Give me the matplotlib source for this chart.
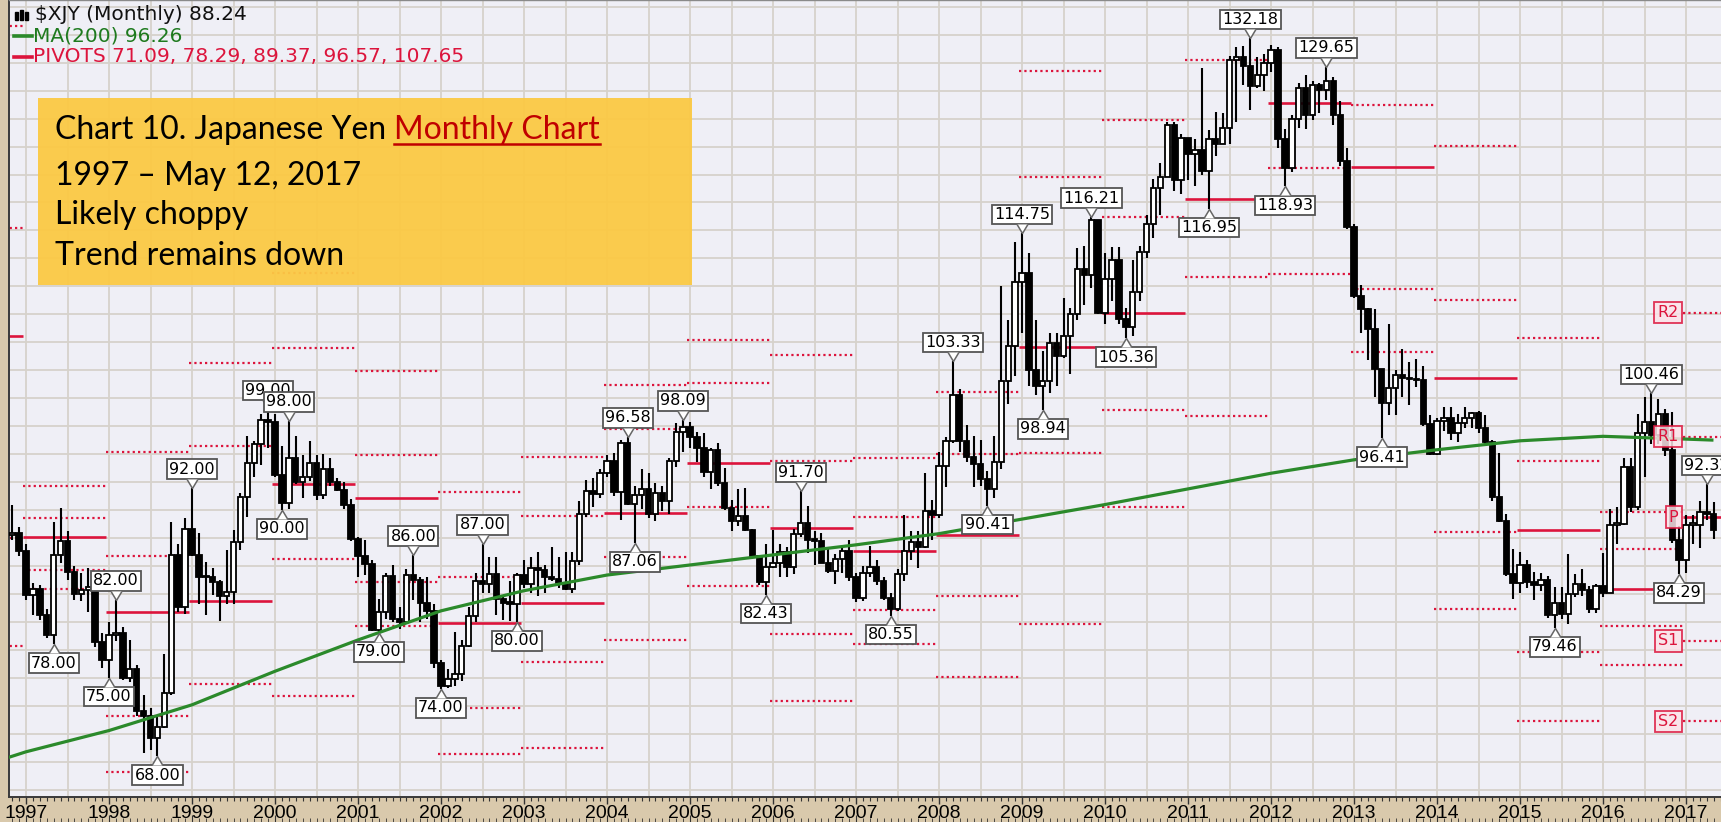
#!/usr/bin/env python3
"""Japanese Yen ($XJY) monthly candles 1996-2017 with MA(200) and yearly pivots."""

import numpy as np
import pandas as pd
import matplotlib

matplotlib.use("Agg")
import matplotlib.pyplot as plt
from matplotlib.lines import Line2D
from matplotlib.path import Path
from matplotlib.patches import Rectangle
from matplotlib.ticker import FixedLocator, NullFormatter

W, H, DPI = 1721, 822, 100

TAN = "#D9C9AC"
PLOT_BG = "#EFEFF6"
GRID = "#D6D2CB"
RED = "#DC143C"
GREEN = "#2B8A2B"

# ---- data ----------------------------------------------------------------
FIRST_MONTH = "1996-11"
FIRST_OPEN = 87.80

closes = [
    87.95, 86.36,
    82.44, 82.99, 80.65, 78.80, 85.98, 87.26, 84.46, 82.51, 82.85, 83.13, 78.25, 76.63,
    78.80, 79.05, 75.02, 75.76, 72.05, 71.63, 69.59, 70.62, 73.69, 85.98, 81.30, 88.34,
    85.98, 84.03, 84.03, 83.61, 82.30, 82.64, 87.18, 91.16, 94.25, 95.88, 98.04, 97.85,
    93.11, 90.66, 94.70, 92.51, 92.94, 94.25, 91.32, 93.72, 92.51, 91.83, 90.50, 87.41,
    85.91, 85.18, 79.30, 80.91, 84.10, 80.26, 80.00, 84.18, 83.75, 81.70, 80.97, 76.34,
    74.24, 74.91, 75.36, 77.82, 80.58, 83.68, 83.40, 84.32, 82.10, 81.70, 81.63, 84.18,
    83.40, 84.82, 84.67, 84.03, 83.82, 83.47, 82.99, 85.47, 89.69, 91.74, 91.41, 93.28,
    94.43, 91.66, 95.97, 90.58, 91.32, 91.91, 89.69, 91.49, 90.83, 94.43, 96.99, 97.47,
    96.53, 95.60, 93.37, 95.42, 92.42, 90.17, 89.05, 89.45, 88.26, 85.91, 83.61, 84.89,
    85.32, 86.28, 84.89, 87.87, 88.89, 87.34, 87.26, 85.32, 84.60, 85.62, 86.36, 84.03,
    82.17, 84.39, 84.89, 83.68, 82.17, 81.17, 84.32, 86.36, 87.11, 86.73, 89.93, 89.53,
    93.98, 96.15, 100.30, 96.15, 94.79, 94.16, 92.76, 91.91, 94.34, 101.52, 104.71, 110.38,
    111.2, 102.5, 101.1, 101.5, 104.9, 103.8, 105.6, 107.5, 111.6, 111.0, 115.9, 107.6,
    110.7, 112.4, 107.1, 106.4, 109.5, 113.1, 115.6, 118.8, 119.8, 124.4, 119.5, 123.3,
    121.8, 122.2, 120.3, 123.2, 122.7, 124.2, 130.2, 130.5, 129.7, 127.9, 128.9, 130.0,
    131.1, 123.2, 120.6, 125.0, 127.7, 125.3, 128.0, 127.6, 128.4, 125.3, 121.2, 115.3,
    109.1, 108.0, 106.2, 102.6, 99.6, 100.9, 102.1, 101.8, 101.7, 101.6, 97.7, 95.0,
    98.0, 98.2, 96.9, 97.8, 98.2, 98.7, 97.3, 96.1, 91.2, 89.0, 84.3, 83.5,
    85.1, 83.6, 83.3, 83.8, 80.6, 81.7, 80.7, 82.5, 83.4, 82.9, 81.2, 83.2,
    82.6, 88.7, 88.8, 93.9, 90.3, 96.9, 97.9, 96.7, 98.6, 95.4, 87.3, 85.5,
    88.7, 88.7, 89.8, 89.7, 88.24,
]

highs = [
    90.5, 88.5,
    87.0, 83.5, 83.3, 81.2, 88.9, 90.2, 88.1, 85.0, 84.4, 84.8, 83.5, 79.0,
    80.0, 82.0, 79.6, 78.4, 76.2, 73.5, 72.3, 71.5, 77.1, 88.9, 87.0, 89.3,
    92.0, 88.0, 85.4, 84.8, 83.8, 86.4, 88.2, 91.5, 96.6, 96.2, 98.6, 99.0,
    98.6, 95.7, 98.0, 96.6, 94.9, 96.2, 94.9, 95.0, 94.7, 92.9, 92.5, 91.0,
    87.6, 87.3, 85.5, 82.1, 84.4, 85.1, 81.3, 84.7, 86.0, 84.0, 84.0, 81.6,
    76.6, 75.8, 79.1, 78.4, 81.3, 84.4, 87.0, 85.8, 85.8, 82.3, 83.7, 84.4,
    85.5, 85.8, 86.3, 85.1, 86.7, 85.8, 86.3, 86.3, 90.8, 92.7, 92.9, 93.7,
    94.9, 95.1, 96.3, 96.58, 92.2, 93.7, 93.3, 92.4, 92.2, 94.7, 97.8, 98.09,
    97.9, 97.0, 96.9, 95.6, 96.0, 93.8, 90.9, 91.9, 92.0, 88.3, 86.0, 87.0,
    88.2, 87.0, 86.7, 88.3, 91.70, 90.4, 88.1, 88.0, 86.6, 86.1, 86.8, 87.3,
    84.4, 85.0, 86.8, 85.5, 84.0, 82.6, 84.7, 89.6, 88.1, 88.1, 93.3, 90.9,
    95.2, 96.5, 103.33, 100.8, 97.6, 96.6, 96.3, 93.5, 96.6, 110.0, 107.0, 114.0,
    114.75, 113.0, 107.0, 104.2, 105.8, 105.8, 109.0, 108.1, 113.4, 113.6, 116.21, 115.9,
    113.0, 113.5, 113.5, 108.1, 112.4, 113.6, 116.4, 119.6, 121.0, 124.7, 124.7, 123.6,
    123.3, 123.2, 129.5, 124.0, 125.6, 125.5, 130.6, 131.4, 131.5, 132.18, 130.5, 130.8,
    131.6, 131.4, 124.1, 125.3, 128.2, 128.9, 128.4, 128.2, 129.65, 128.7, 126.6, 122.4,
    115.6, 110.1, 108.1, 108.0, 102.6, 106.6, 102.5, 104.4, 103.2, 103.5, 102.9, 98.5,
    98.2, 99.2, 99.2, 98.6, 99.2, 98.8, 98.9, 98.5, 96.3, 95.1, 89.7, 86.5,
    86.3, 85.5, 84.5, 84.4, 84.1, 83.1, 83.1, 86.1, 84.3, 84.7, 83.2, 83.4,
    86.2, 90.1, 90.3, 94.7, 94.7, 98.6, 100.1, 100.46, 99.9, 99.0, 98.8, 88.6,
    89.6, 89.6, 90.8, 92.32, 90.7,
]

lows = [
    87.3, 85.9,
    82.0, 80.6, 80.2, 78.6, 78.0, 85.3, 83.8, 82.0, 81.9, 80.9, 77.8, 75.9,
    75.0, 78.3, 74.8, 74.6, 71.6, 68.3, 68.6, 68.0, 70.5, 73.5, 80.9, 80.7,
    85.9, 81.6, 80.6, 82.4, 80.1, 81.6, 81.6, 86.4, 89.4, 93.0, 94.0, 95.6,
    93.0, 90.0, 90.1, 92.3, 91.1, 92.6, 90.9, 91.0, 92.2, 91.7, 90.1, 87.2,
    84.0, 84.2, 79.2, 79.0, 80.3, 80.0, 79.4, 80.0, 82.0, 80.0, 80.3, 75.9,
    74.0, 74.1, 74.3, 74.7, 77.8, 80.0, 82.6, 82.6, 80.6, 80.2, 80.1, 80.0,
    83.0, 82.6, 82.3, 82.6, 83.7, 83.0, 82.9, 82.6, 85.1, 89.4, 90.3, 91.1,
    93.0, 91.3, 89.1, 90.5, 87.06, 90.1, 89.3, 89.0, 89.9, 89.7, 93.9, 95.2,
    95.6, 94.3, 93.0, 91.9, 92.2, 90.0, 88.1, 88.6, 88.1, 85.8, 83.3, 82.43,
    84.8, 84.0, 84.0, 84.3, 87.6, 86.2, 85.1, 85.3, 84.4, 83.4, 84.4, 83.7,
    81.8, 81.9, 84.0, 83.3, 82.0, 80.55, 81.0, 83.7, 85.5, 84.8, 86.6, 87.3,
    89.3, 92.1, 96.0, 95.2, 94.3, 92.1, 92.2, 90.41, 91.1, 93.7, 99.5, 102.0,
    105.8, 101.1, 100.3, 98.94, 100.5, 101.1, 103.6, 102.2, 107.0, 108.3, 109.9, 107.5,
    106.6, 108.7, 106.6, 105.36, 105.6, 108.7, 112.5, 114.3, 116.4, 119.8, 118.5, 118.3,
    119.5, 119.0, 120.0, 116.95, 121.7, 122.7, 122.7, 124.7, 128.0, 125.8, 127.7, 127.5,
    129.2, 122.4, 118.93, 120.2, 124.2, 124.1, 124.9, 125.5, 126.7, 124.4, 120.8, 115.1,
    109.0, 105.8, 103.4, 100.1, 96.41, 98.5, 98.5, 100.1, 99.4, 101.0, 97.5, 94.9,
    94.9, 97.1, 96.3, 96.1, 97.3, 97.3, 96.9, 95.9, 90.8, 88.9, 84.1, 82.1,
    82.6, 83.0, 82.0, 82.8, 80.4, 79.46, 80.3, 79.8, 82.2, 82.3, 80.8, 80.8,
    82.2, 82.6, 87.0, 88.7, 89.8, 90.0, 93.0, 95.9, 95.9, 94.8, 87.1, 84.29,
    84.4, 87.0, 86.6, 89.1, 87.4,
]

# months that carry a price tag on the chart
high_tags = ["1998-02", "1999-01", "1999-12", "2000-03", "2001-09", "2002-07",
             "2004-04", "2004-12", "2006-05", "2008-03", "2009-01", "2009-11",
             "2011-10", "2012-09", "2016-08", "2017-04"]
low_tags = ["1997-05", "1998-01", "1998-08", "2000-02", "2001-04", "2002-01",
            "2002-12", "2004-05", "2005-12", "2007-06", "2008-08", "2009-04",
            "2010-04", "2011-04", "2012-03", "2013-05", "2015-06", "2016-12"]

# MA(200) read at the start of each year
ma_dates = [1996.79, 1997, 1998, 1999, 2000, 2001, 2002, 2003, 2004, 2005, 2006,
            2007, 2008, 2009, 2010, 2011, 2012, 2013, 2014, 2015, 2016, 2017, 2017.33]
ma_values = [67.9, 68.4, 70.3, 72.6, 75.6, 78.4, 81.0, 82.8, 84.2, 85.1, 86.0,
             86.9, 87.9, 89.2, 90.5, 91.9, 93.3, 94.5, 95.4, 96.2, 96.6, 96.35, 96.26]

# yearly high / low / close before the data window (for the first pivots)
hlc_1995 = (123.7, 96.0, 97.1)
hlc_1996 = (96.3, 86.3, 86.0)

title_lines = ["Chart 10. Japanese Yen ", "1997 \u2013 May 12, 2017", "Likely choppy",
               "Trend remains down"]
title_link = "Monthly Chart"
legend_symbol = r"\$XJY (Monthly) 88.24"
legend_ma = "MA(200) 96.26"
legend_pivots = "PIVOTS 71.09, 78.29, 89.37, 96.57, 107.65"


def fx(px):
    return px / W


def fy(py):
    return 1 - py / H


def pivots(h, l, c):
    p = (h + l + c) / 3.0
    return {"P": p, "R1": 2 * p - l, "S1": 2 * p - h, "R2": p + (h - l), "S2": p - (h - l)}


def tag_marker(up):
    s = 1 if up else -1
    verts = [(-0.6, s * 1.0), (0.0, 0.0), (0.6, s * 1.0)]
    return Path(verts, [Path.MOVETO, Path.LINETO, Path.LINETO])


def main():
    months = pd.period_range(FIRST_MONTH, periods=len(closes), freq="M")
    k = np.asarray((months.year - 1997) * 12 + months.month - 1, dtype=float)
    c = np.array(closes)
    o = np.concatenate([[FIRST_OPEN], c[:-1]])
    hi = np.maximum(np.array(highs), np.maximum(o, c))
    lo = np.minimum(np.array(lows), np.minimum(o, c))

    fig = plt.figure(figsize=(W / DPI, H / DPI), dpi=DPI, facecolor=TAN)
    ax = fig.add_axes([fx(9), 25 / H, (W - 9) / W, 797 / H])
    ax.set_facecolor(PLOT_BG)
    ax.set_xlim((9 - 26) / 6.917, (W - 26) / 6.917)
    ax.set_ylim(64.36, 135.6)

    # grid: every half year, every 2.5 points
    ax.vlines(np.arange(-6, 250, 6), 60, 140, color=GRID, lw=1.3, zorder=0.5)
    ax.hlines(np.arange(65, 136, 2.5), -10, 250, color=GRID, lw=1.3, zorder=0.5)

    # yearly pivots
    years = sorted(set(months.year))
    base = {1996: hlc_1995, 1997: hlc_1996}
    for y in years[:-1]:
        sel = months.year == y
        base[y + 1] = (hi[sel].max(), lo[sel].min(), c[sel][-1])
    for y, hlc in base.items():
        lv = pivots(*hlc)
        x0 = 12 * (y - 1997) - 0.5
        x1 = x0 + 12 if y < 2017 else 260
        ax.hlines(lv["P"], x0, x1, color=RED, lw=1.9, zorder=2)
        for key in ("R1", "R2", "S1", "S2"):
            ax.hlines(lv[key], x0, x1, color=RED, lw=1.6, linestyles=(0, (1, 1.4)), zorder=2)
        if y == 2017:
            for key in ("R2", "R1", "P", "S1", "S2"):
                ax.annotate(key, xy=(x0, lv[key]), xytext=(-3, 0), textcoords="offset points",
                            ha="right", va="center", fontsize=11.5, color=RED, zorder=8,
                            bbox=dict(boxstyle="square,pad=0.2", fc="#FBE3E8", ec=RED,
                                      lw=1.3, alpha=0.85))

    # candles
    up = c >= o
    ax.vlines(k, lo, hi, color="black", lw=1.5, zorder=3)
    body_lo = np.minimum(o, c)
    body_h = np.maximum(np.abs(c - o), 0.12)
    ax.bar(k[up], body_h[up], bottom=body_lo[up], width=0.78, facecolor="white",
           edgecolor="black", lw=1.3, zorder=4)
    ax.bar(k[~up], body_h[~up], bottom=body_lo[~up], width=0.78, facecolor="black",
           edgecolor="black", lw=1.3, zorder=4)

    # MA(200)
    ma_k = (np.array(ma_dates) - 1997) * 12
    ax.plot(ma_k, ma_values, color=GREEN, lw=2.3, zorder=5, solid_capstyle="butt")

    # price tags
    tags = [(m, True) for m in high_tags] + [(m, False) for m in low_tags]
    tags.sort(key=lambda t: t[0])
    for i, (m, is_high) in enumerate(tags):
        idx = months.get_loc(pd.Period(m, freq="M"))
        val = hi[idx] if is_high else lo[idx]
        z = 10 + i * 0.01
        t = ax.annotate(f"{val:.2f}", xy=(k[idx], val), xytext=(0, 13.5 if is_high else -13.5),
                        textcoords="offset points", ha="center", va="center",
                        fontsize=11.5, color="black", zorder=z,
                        bbox=dict(boxstyle="square,pad=0.14", fc="white", ec="#555555", lw=1.3))
        t.set_clip_on(True)
        t.set_clip_box(ax.bbox)
        ax.plot([k[idx]], [val], marker=tag_marker(is_high), ms=13, mfc="white",
                mec="#666666", mew=1.1, zorder=z + 0.005, clip_on=True)

    # axes and ticks
    year_k = [12 * (y - 1997) for y in range(1997, 2018)]
    ax.set_xticks(year_k, [str(y) for y in range(1997, 2018)])
    ax.xaxis.set_minor_locator(FixedLocator(np.arange(-2, 246)))
    ax.tick_params(axis="x", which="major", length=5, width=1.0, pad=1, color="#333333",
                   labelsize=14)
    ax.tick_params(axis="x", which="minor", length=3, width=0.8, color="#333333")
    for lab in ax.get_xticklabels():
        lab.set_family("Liberation Sans")
    ax.set_yticks([])
    sec = ax.secondary_xaxis(-25 / 797)
    sec.set_xticks(year_k)
    sec.xaxis.set_minor_locator(FixedLocator(np.arange(-2, 246)))
    sec.xaxis.set_major_formatter(NullFormatter())
    sec.tick_params(axis="x", which="major", direction="in", length=5, color="#333333")
    sec.tick_params(axis="x", which="minor", direction="in", length=3, color="#333333")
    sec.spines["bottom"].set_visible(False)

    ax.spines["right"].set_visible(False)
    ax.spines["top"].set_color("#8A8A8A")
    ax.spines["top"].set_linewidth(1.0)
    for side in ("left", "bottom"):
        ax.spines[side].set_color("#3A3A3A")
        ax.spines[side].set_linewidth(1.4)

    # legend in the top-left corner
    for i, x in enumerate((15, 20, 25)):
        fig.add_artist(Rectangle((fx(x), fy(20)), 3 / W, (8 + 2 * (i % 2)) / H,
                                 transform=fig.transFigure, color="black", zorder=6))
    fig.text(fx(35), fy(14), legend_symbol, fontsize=14.5, color="#111111", va="center",
             family="DejaVu Sans")
    fig.add_artist(Line2D([fx(14), fx(32)], [fy(36)] * 2, transform=fig.transFigure,
                          color=GREEN, lw=2.6))
    fig.text(fx(33), fy(36), legend_ma, fontsize=14.5, color="#1E7A1E", va="center",
             family="DejaVu Sans")
    fig.add_artist(Line2D([fx(14), fx(32)], [fy(57)] * 2, transform=fig.transFigure,
                          color=RED, lw=2.6))
    fig.text(fx(33), fy(57), legend_pivots, fontsize=14.5, color=RED, va="center",
             family="DejaVu Sans")

    # yellow comment box
    fig.add_artist(Rectangle((fx(38), fy(285)), (692 - 38) / W, (285 - 98) / H,
                             transform=fig.transFigure, facecolor="#FBC944", alpha=0.95,
                             edgecolor="none", zorder=6))
    baselines = [139, 185, 224, 265]
    texts = []
    for line, yb in zip(title_lines, baselines):
        texts.append(fig.text(fx(55), fy(yb), line, fontsize=23, family="Lato",
                              color="black", va="baseline", zorder=7))
    fig.canvas.draw()
    bb = texts[0].get_window_extent()
    link = fig.text(bb.x1 / W, fy(baselines[0]), title_link, fontsize=23, family="Lato",
                    color="#C00000", va="baseline", zorder=7)
    fig.canvas.draw()
    lb = link.get_window_extent()
    fig.add_artist(Line2D([lb.x0 / W, lb.x1 / W], [fy(baselines[0] + 5)] * 2,
                          transform=fig.transFigure, color="#C00000", lw=1.8, zorder=7))

    fig.savefig("out.png", dpi=DPI, facecolor=TAN)
    plt.close(fig)


if __name__ == "__main__":
    main()
